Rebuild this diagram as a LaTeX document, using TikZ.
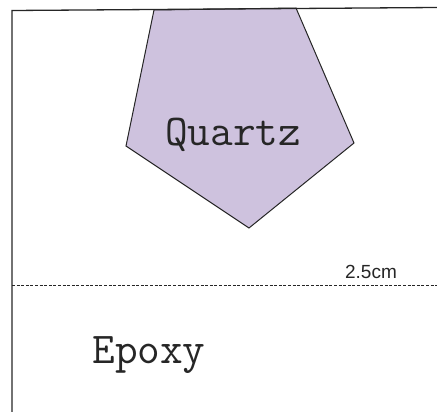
\documentclass[tikz,border=0pt]{standalone}
\usepackage{fontspec}
\setsansfont{Liberation Sans}
\usepackage{xcolor}
\usepackage{tikz}
\usetikzlibrary{positioning}

\definecolor{quartzfill}{RGB}{206,194,222}

\begin{document}
\begin{tikzpicture}[
  x=1pt, y=-1pt,
  %--- style definitions ---
  border/.style    = {draw=black!85, line width=1.3pt},
  crystal/.style   = {draw=black!85, fill=quartzfill, line width=1pt, line join=miter},
  interface/.style = {draw=black!85, line width=0.9pt, dash pattern=on 3pt off 1.6pt},
  material/.style  = {font=\fontsize{44}{44}\selectfont\ttfamily, text=black!85, inner sep=0pt},
  dimlabel/.style  = {font=\fontsize{19}{19}\selectfont\sffamily, text=black!85, inner sep=0pt},
]
\useasboundingbox (0,0) rectangle (437,412);

%% ── QUARTZ GRAIN ───────────────────────────────────────────────────────────
\draw[crystal] (154,10) -- (296,8) -- (354,143) -- (249,228) -- (126,146) -- cycle;
\node[material, anchor=base] (quartz) at (233,146) {Quartz};

%% ── SAMPLE BORDER ──────────────────────────────────────────────────────────
\draw[border] (12,412) -- (12,10.5) -- (437,7.5);

%% ── EPOXY LEVEL ────────────────────────────────────────────────────────────
\coordinate (lvlL) at (12,285);
\coordinate (lvlR) at (437,285);
\draw[interface] (lvlL) -- (lvlR);
\node[dimlabel, anchor=base] (depth) at (371,278) {2.5cm};
\node[material, anchor=base] (epoxy) at (149,363) {Epoxy};

\end{tikzpicture}
\end{document}
